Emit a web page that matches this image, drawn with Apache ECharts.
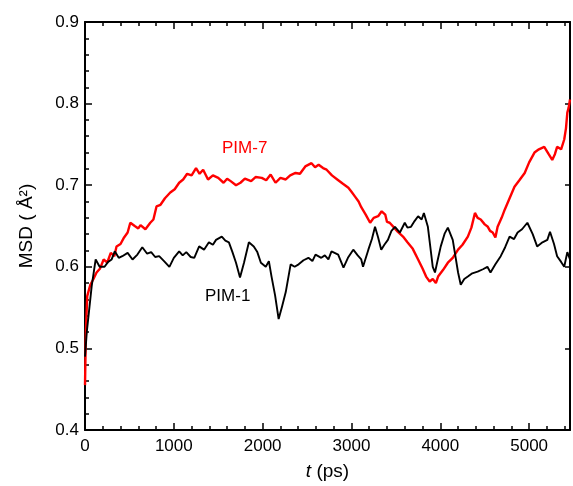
<!DOCTYPE html>
<html><head><meta charset="utf-8">
<script src="https://cdn.jsdelivr.net/npm/echarts@6/dist/echarts.min.js"></script>
<style>html,body{margin:0;padding:0;background:#fff}#c{width:573px;height:486px}</style>
</head><body><div id="c"></div>
<script>
// PIM-7 (red): time in ps, MSD in Å^2
const pim7T = [0,10,25,45,60,95,130,170,210,250,290,330,355,400,440,480,510,560,600,625,680,735,770,805,850,900,960,1010,1060,1105,1150,1200,1250,1290,1330,1385,1440,1500,1560,1600,1640,1700,1750,1800,1870,1920,1990,2040,2090,2145,2200,2260,2310,2370,2420,2480,2550,2590,2630,2680,2720,2780,2840,2900,2965,3000,3040,3080,3110,3160,3210,3250,3300,3340,3380,3400,3430,3480,3520,3580,3630,3690,3750,3800,3840,3880,3915,3950,3975,4030,4085,4140,4200,4250,4310,4350,4390,4420,4455,4500,4535,4560,4590,4620,4645,4690,4725,4780,4835,4890,4950,5000,5060,5110,5170,5220,5260,5290,5315,5360,5395,5415,5430,5445,5460];
const pim7V = [0.455,0.52,0.564,0.572,0.578,0.585,0.593,0.598,0.609,0.605,0.617,0.613,0.625,0.628,0.636,0.642,0.654,0.650,0.647,0.651,0.646,0.654,0.658,0.674,0.676,0.684,0.691,0.695,0.703,0.707,0.714,0.712,0.721,0.714,0.719,0.707,0.712,0.709,0.703,0.708,0.705,0.700,0.703,0.708,0.705,0.710,0.709,0.706,0.713,0.703,0.709,0.707,0.712,0.715,0.714,0.723,0.727,0.722,0.725,0.721,0.719,0.712,0.707,0.702,0.697,0.692,0.686,0.680,0.673,0.664,0.654,0.660,0.662,0.668,0.664,0.655,0.654,0.648,0.643,0.637,0.630,0.622,0.609,0.598,0.588,0.582,0.585,0.580,0.588,0.596,0.605,0.611,0.621,0.627,0.637,0.648,0.666,0.660,0.658,0.652,0.649,0.644,0.642,0.636,0.649,0.660,0.670,0.684,0.698,0.706,0.715,0.728,0.740,0.744,0.747,0.738,0.731,0.738,0.747,0.744,0.756,0.770,0.789,0.795,0.805];
// PIM-1 (black)
const pim1T = [0,20,75,120,165,220,260,300,335,380,420,480,535,590,645,700,745,790,835,890,950,1000,1060,1100,1140,1190,1230,1285,1340,1395,1440,1475,1540,1580,1620,1660,1700,1745,1790,1845,1900,1940,1980,2035,2070,2100,2140,2180,2220,2260,2315,2360,2405,2460,2515,2560,2595,2660,2700,2740,2775,2850,2910,2960,3020,3070,3110,3130,3190,3230,3265,3300,3335,3370,3410,3450,3490,3545,3600,3630,3670,3710,3750,3790,3815,3860,3915,3940,3970,4005,4050,4085,4140,4200,4230,4270,4310,4360,4420,4480,4530,4565,4620,4680,4730,4780,4830,4870,4920,4980,5040,5090,5150,5205,5235,5280,5315,5360,5395,5430,5460];
const pim1V = [0.49,0.52,0.576,0.609,0.600,0.600,0.606,0.609,0.619,0.611,0.613,0.617,0.609,0.615,0.624,0.616,0.618,0.612,0.613,0.607,0.600,0.611,0.619,0.614,0.618,0.612,0.611,0.625,0.621,0.630,0.627,0.633,0.637,0.632,0.630,0.618,0.605,0.587,0.605,0.630,0.625,0.618,0.605,0.600,0.607,0.588,0.565,0.536,0.552,0.569,0.603,0.600,0.603,0.608,0.611,0.607,0.615,0.611,0.614,0.609,0.619,0.615,0.599,0.611,0.621,0.614,0.609,0.600,0.621,0.634,0.649,0.636,0.621,0.627,0.633,0.644,0.649,0.642,0.654,0.648,0.649,0.656,0.662,0.658,0.666,0.649,0.600,0.593,0.608,0.625,0.641,0.648,0.633,0.593,0.578,0.585,0.588,0.592,0.594,0.597,0.600,0.593,0.603,0.613,0.624,0.637,0.634,0.642,0.646,0.654,0.640,0.625,0.630,0.633,0.643,0.628,0.613,0.606,0.600,0.618,0.609];
const xTicks = [0,1000,2000,3000,4000,5000];
const yTicks = [0.4,0.5,0.6,0.7,0.8,0.9];
const seriesNames = ['PIM-7','PIM-1'];

const zip = (a,b)=>a.map((t,i)=>[t,b[i]]);
const font = 'Liberation Sans, Arial, sans-serif';
const chart = echarts.init(document.getElementById('c'));
const axisLine = {show:true, onZero:false, lineStyle:{color:'#000', width:2}};
chart.setOption({
  animation:false,
  grid:{left:85, right:1, top:22, bottom:55, containLabel:false},
  xAxis:[{
    type:'value', min:xTicks[0], max:5460, interval:1000, position:'bottom',
    axisLine, splitLine:{show:false},
    axisTick:{inside:true, length:7, lineStyle:{color:'#000', width:1.5}},
    minorTick:{show:true, splitNumber:5, length:4, lineStyle:{color:'#000', width:1.5}},
    axisLabel:{color:'#000', fontSize:17, fontFamily:font, margin:8,
      formatter:v=> xTicks.includes(v) ? String(v) : ''},
    name:'{i|t} (ps)', nameLocation:'middle', nameGap:32,
    nameTextStyle:{color:'#000', fontSize:19, fontFamily:font,
      rich:{i:{fontStyle:'italic', fontSize:19, fontFamily:font, color:'#000'}}}
  },{
    type:'value', min:xTicks[0], max:5460, interval:1000, position:'top',
    axisLine, splitLine:{show:false},
    axisTick:{inside:true, length:7, lineStyle:{color:'#000', width:1.5}},
    minorTick:{show:true, splitNumber:5, length:4, lineStyle:{color:'#000', width:1.5}},
    axisLabel:{show:false}
  }],
  yAxis:[{
    type:'value', min:yTicks[0], max:yTicks[yTicks.length-1], interval:0.1, position:'left',
    axisLine, splitLine:{show:false},
    axisTick:{inside:true, length:7, lineStyle:{color:'#000', width:1.5}},
    minorTick:{show:true, splitNumber:5, length:4, lineStyle:{color:'#000', width:1.5}},
    axisLabel:{color:'#000', fontSize:17, fontFamily:font, margin:6, formatter:v=>v.toFixed(1)},
    name:'MSD ( Å²)', nameLocation:'middle', nameGap:49, nameRotate:90,
    nameTextStyle:{color:'#000', fontSize:19, fontFamily:font}
  },{
    type:'value', min:yTicks[0], max:yTicks[yTicks.length-1], interval:0.1, position:'right',
    axisLine, splitLine:{show:false},
    axisTick:{inside:true, length:5, lineStyle:{color:'#000', width:1.5}},
    axisLabel:{show:false}
  }],
  series:[
    {name:seriesNames[0], type:'line', data:zip(pim7T,pim7V), showSymbol:false, symbol:'none',
     lineStyle:{color:'#ff0000', width:2.4}, z:2},
    {name:seriesNames[1], type:'line', data:zip(pim1T,pim1V), showSymbol:false, symbol:'none',
     lineStyle:{color:'#000000', width:1.9}, z:3}
  ],
  graphic:[
    {type:'text', left:222, top:140, style:{text:seriesNames[0], fill:'#ff0000', font:'17px '+font}},
    {type:'text', left:205, top:288, style:{text:seriesNames[1], fill:'#000', font:'17px '+font}}
  ]
});
</script></body></html>
